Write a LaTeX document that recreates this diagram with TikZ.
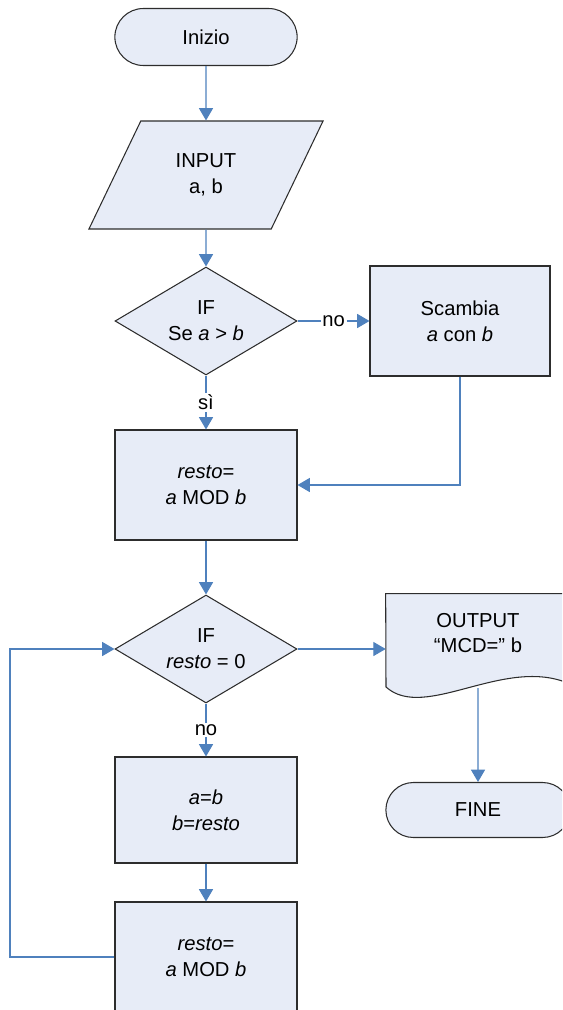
\documentclass[tikz,border=0pt]{standalone}
\usepackage{fontspec}
\setmainfont{Liberation Sans}
\usetikzlibrary{arrows.meta,shapes.geometric,shapes.misc,positioning}
\definecolor{boxfill}{RGB}{231,236,247}
\definecolor{linkblue}{RGB}{79,129,189}
\definecolor{edgegray}{RGB}{45,45,45}
\tikzset{>={Triangle[width=8pt,length=7pt]}}
\tikzset{every node/.style={font=\fontsize{11.5}{14.7}\selectfont}}
\tikzset{term/.style={shape=rounded rectangle, draw=edgegray, fill=boxfill,
    line width=0.6pt, minimum width=3.88cm, minimum height=1.14cm}}
\tikzset{io/.style={trapezium, trapezium left angle=62, trapezium right angle=118,
    trapezium stretches=true, draw=edgegray, fill=boxfill, line width=0.6pt,
    minimum width=4.7cm, minimum height=2.16cm, align=center}}
\tikzset{test/.style={diamond, aspect=1.69, draw=edgegray, fill=boxfill, line width=0.6pt,
    minimum width=3.64cm, minimum height=2.16cm, inner sep=-3pt, align=center}}
\tikzset{proc/.style={rectangle, draw=edgegray, fill=boxfill, line width=0.6pt,
    minimum width=3.64cm, minimum height=2.2cm, align=center}}
\tikzset{docbox/.style={rectangle, inner sep=0pt, minimum width=3.68cm, minimum height=2.2cm}}
\tikzset{link/.style={->, draw=linkblue, line width=0.6pt}}
\tikzset{tag/.style={fill=white, inner sep=1pt}}

\begin{document}
\begin{tikzpicture}[x=0.02cm, y=-0.02cm]
    \clip (0,0) rectangle (562,1010);

    \node(start)[term]              at (206,37)  {Inizio};
    \node(inp)  [io]                at (206,175) {INPUT\\a, b};
    \node(if1)  [test]              at (206,321) {IF\\Se \textit{a} > \textit{b}};
    \node(swap) [proc, minimum width=3.6cm] at (460,321) {Scambia\\\textit{a} con \textit{b}};
    \node(rest1)[proc]              at (206,485) {\textit{resto}=\\\textit{a} MOD \textit{b}};
    \node(if2)  [test]              at (206,649) {IF\\\textit{resto} = 0};
    \node(out)  [docbox]            at (478,649) {};
    \node(fine) [term, minimum width=3.92cm, minimum height=1.1cm] at (478,810) {FINE};
    \node(upd)  [proc, minimum height=2.12cm] at (206,810) {\textit{a}=\textit{b}\\\textit{b}=\textit{resto}};
    \node(rest2)[proc]              at (206,957) {\textit{resto}=\\\textit{a} MOD \textit{b}};

    % document shape for the output
    \filldraw [draw=edgegray, fill=boxfill, line width=0.6pt] (out.north west) -- (out.north east)
        -- (570,684) .. controls (505,655) and (425,722) .. (386,687) -- cycle;
    \node(outtext) [align=center] at (478,633) {OUTPUT\\“MCD=” b};
    \coordinate (outb) at (478,688);
    \coordinate (lp) at (10,800);

    \draw [link] (start) to (inp);
    \draw [link] (inp) to (if1);
    \draw [link] (if1) to node [tag] {no} (swap);
    \draw [link] (if1) to node [tag] {sì} (rest1);
    \draw [link] (swap.south) |- (rest1.east);
    \draw [link] (rest1) to (if2);
    \draw [link] (if2) to (out);
    \draw [link] (outb) to (fine);
    \draw [link] (if2) to node [tag] {no} (upd);
    \draw [link] (upd) to (rest2);
    \draw [link] (rest2.west) -| (lp) |- (if2.west);

\end{tikzpicture}
\end{document}
